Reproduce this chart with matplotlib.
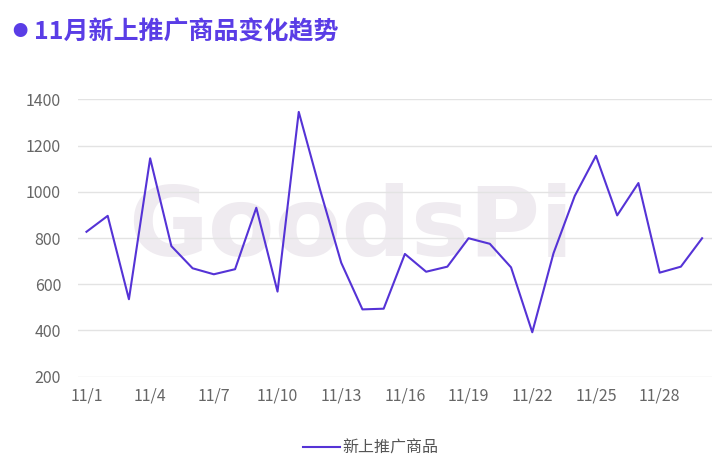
import matplotlib
matplotlib.use('Agg')
import matplotlib.pyplot as plt

plt.rcParams['font.family'] = ['Noto Sans CJK SC', 'DejaVu Sans']

TITLE = '11月新上推广商品变化趋势'
SERIES_NAME = '新上推广商品'
WATERMARK = 'GoodsPi'
LINE_COLOR = '#5533d6'
TITLE_COLOR = '#5a3de6'

dates = [f'11/{d}' for d in range(1, 31)]
values = [827, 896, 535, 1145, 765, 669, 643, 665, 931, 568,
          1346, 1010, 693, 491, 494, 731, 654, 676, 799, 775,
          673, 392, 734, 982, 1156, 898, 1038, 650, 676, 799]
yticks = [200, 400, 600, 800, 1000, 1200, 1400]

fig = plt.figure(figsize=(7.2, 4.69), dpi=100)
ax = fig.add_axes([0.108, 0.197, 0.881, 0.591])

x = list(range(len(dates)))

# faint watermark behind grid and line
ax.text(0.43, 0.53, WATERMARK, transform=ax.transAxes, fontsize=70,
        fontweight='bold', color='#efebf0', ha='center', va='center',
        zorder=0, family=['DejaVu Sans'])

ax.plot(x, values, color=LINE_COLOR, linewidth=1.5, label=SERIES_NAME, zorder=3)

ax.set_ylim(200, 1400)
ax.set_xlim(-0.41, 29.47)
ax.set_yticks(yticks)
ax.set_xticks(x[::3])
ax.set_xticklabels(dates[::3])
ax.tick_params(length=0, labelsize=11.5, labelcolor='#666666', pad=8)
ax.tick_params(axis='y', pad=12)
ax.grid(axis='y', color='#e3e3e3', linewidth=1, zorder=1)
for s in ax.spines.values():
    s.set_visible(False)

fig.text(0.028, 0.932, '●', color=TITLE_COLOR, fontsize=11, va='center', ha='center')
fig.text(0.047, 0.932, TITLE, color=TITLE_COLOR, fontsize=18, fontweight='bold',
         va='center', ha='left')

fig.legend(loc='center', bbox_to_anchor=(0.515, 0.045), frameon=False,
           fontsize=11.5, handlelength=2.3, handletextpad=0.2,
           labelcolor='#555555')

fig.savefig('out.png', dpi=100)
